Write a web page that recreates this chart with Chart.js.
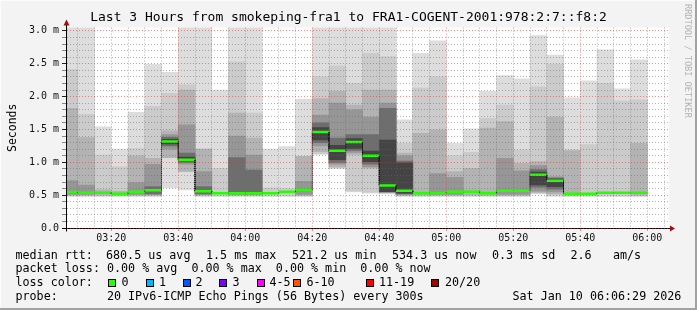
<!DOCTYPE html>
<html>
<head>
<meta charset="utf-8">
<script src="https://cdn.jsdelivr.net/npm/chart.js@4.4.0/dist/chart.umd.min.js"></script>
<style>
  html, body { margin: 0; padding: 0; background: #f3f3f3; }
  #wrap {
    position: relative; width: 697px; height: 310px; background: #f3f3f3;
    box-shadow: inset -2px -2px 0 #a2a2a2, inset 1px 1px 0 #fbfbfb;
    font-family: 'DejaVu Sans Mono', monospace; color: #000;
  }
  #wrap canvas { position: absolute; left: 0; top: 0; }
  .txt { position: absolute; white-space: pre; font-size: 11.7px; line-height: 14px; }
  .box { position: absolute; width: 6px; height: 6px; border: 1px solid #000; }
  .credit {
    position: absolute; left: 683px; top: 4px; font-size: 8.6px; line-height: 10px;
    color: #b4b4b4; writing-mode: vertical-rl; white-space: pre;
  }
</style>
</head>
<body>
<div id="wrap">
  <canvas id="chart" width="697" height="310"></canvas>
  <div class="credit">RRDTOOL / TOBI OETIKER</div>
  <div id="legend"></div>
</div>
<script>
// 5 minute slots (start time of each step)
const slotStart = ['03:05', '03:10', '03:15', '03:20', '03:25', '03:30', '03:35', '03:40', '03:45', '03:50',
  '03:55', '04:00', '04:05', '04:10', '04:15', '04:20', '04:25', '04:30', '04:35', '04:40',
  '04:45', '04:50', '04:55', '05:00', '05:05', '05:10', '05:15', '05:20', '05:25', '05:30',
  '05:35', '05:40', '05:45', '05:50', '05:55'];

// median rtt per slot, ms
const medianRtt = [0.548, 0.538, 0.538, 0.523, 0.553, 0.574, 1.315, 1.04, 0.558, 0.528,
  0.528, 0.528, 0.528, 0.553, 0.583, 1.46, 1.175, 1.31, 1.10, 0.645,
  0.568, 0.528, 0.533, 0.553, 0.553, 0.528, 0.568, 0.568, 0.81, 0.72,
  0.523, 0.523, 0.538, 0.538, 0.538];

// smoke: top of each shade level (light -> dark), ms
const smokeTop = [
  [3.2, 2.41, 1.82, 0.72, null, null],
  [3.2, 1.73, 1.375, 0.655, null, null],
  [1.54, 1.11, 0.58, null, null, null],
  [1.20, 0.93, 0.56, null, null, null],
  [1.76, 1.21, 1.10, 0.69, null, null],
  [2.49, 1.85, 1.06, 0.97, 0.63, null],
  [2.37, 2.05, 1.48, 1.42, 1.38, 1.35],
  [3.2, 2.18, 2.10, 1.57, 1.14, 1.08],
  [3.2, 1.20, 1.20, 0.86, 0.63, null],
  [2.10, 0.91, null, null, null, null],
  [3.2, 2.53, 1.75, 1.40, 1.07, null],
  [3.2, 1.75, 1.37, 1.11, 0.88, null],
  [1.20, 0.61, null, null, null, null],
  [1.24, 0.60, null, null, null, null],
  [1.96, 1.09, 1.09, 0.71, null, null],
  [3.2, 2.30, 1.97, 1.72, 1.60, 1.53],
  [3.2, 2.47, 2.08, 1.90, 1.37, 1.26],
  [3.2, 2.20, 1.87, 1.80, 1.42, 1.36],
  [3.2, 2.66, 2.10, 1.69, 1.42, 1.17],
  [3.2, 2.61, 2.10, 1.90, 1.82, 1.34],
  [1.645, 1.29, 1.14, 1.10, 1.02, 0.99],
  [2.66, 2.13, 1.44, null, null, null],
  [2.85, 2.30, 1.49, 0.83, null, null],
  [1.29, 1.10, 0.86, 0.77, null, null],
  [1.51, 1.15, 0.91, null, null, null],
  [2.08, 1.67, 1.52, null, null, null],
  [2.32, 1.87, 1.62, 1.06, null, null],
  [2.27, 1.19, 0.985, 0.87, null, null],
  [2.93, 2.15, 1.01, 0.95, 0.89, 0.85],
  [2.63, 2.49, 1.69, 0.78, 0.76, 0.745],
  [1.98, 1.19, 1.18, null, null, null],
  [2.24, 1.27, null, null, null, null],
  [2.71, 2.20, null, null, null, null],
  [2.12, 1.93, null, null, null, null],
  [2.56, 1.95, 1.29, null, null, null]
];

// smoke: bottom of each shade level, ms
const smokeBottom = [
  [0.48, 0.49, 0.50, 0.51, 0.52, 0.53],
  [0.48, 0.49, 0.50, 0.51, 0.52, 0.53],
  [0.48, 0.49, 0.50, 0.51, 0.52, 0.53],
  [0.48, 0.49, 0.50, 0.51, 0.52, 0.53],
  [0.48, 0.49, 0.50, 0.51, 0.52, 0.53],
  [0.48, 0.49, 0.50, 0.51, 0.52, 0.53],
  [0.61, 1.07, 1.07, 1.20, 1.25, 1.28],
  [0.58, 0.86, 0.86, 0.97, 1.00, 1.02],
  [0.48, 0.49, 0.50, 0.51, 0.52, 0.53],
  [0.48, 0.49, 0.50, 0.51, 0.52, 0.53],
  [0.48, 0.49, 0.50, 0.51, 0.52, 0.53],
  [0.48, 0.49, 0.50, 0.51, 0.52, 0.53],
  [0.48, 0.49, 0.50, 0.51, 0.52, 0.53],
  [0.48, 0.49, 0.50, 0.51, 0.52, 0.53],
  [0.48, 0.49, 0.50, 0.51, 0.52, 0.53],
  [1.12, 1.13, 1.16, 1.25, 1.30, 1.34],
  [0.91, 0.91, 0.93, 0.97, 1.00, 1.04],
  [0.55, 0.56, 1.12, 1.15, 1.18, 1.21],
  [0.53, 0.545, 0.91, 0.93, 0.97, 1.01],
  [0.52, 0.53, 0.54, 0.545, 0.55, 0.553],
  [0.48, 0.49, 0.50, 0.51, 0.52, 0.53],
  [0.48, 0.49, 0.50, 0.51, 0.52, 0.53],
  [0.48, 0.49, 0.50, 0.51, 0.52, 0.53],
  [0.48, 0.49, 0.50, 0.51, 0.52, 0.53],
  [0.48, 0.49, 0.50, 0.51, 0.52, 0.53],
  [0.48, 0.49, 0.50, 0.51, 0.52, 0.53],
  [0.48, 0.49, 0.50, 0.51, 0.52, 0.53],
  [0.48, 0.49, 0.50, 0.51, 0.52, 0.53],
  [0.52, 0.53, 0.54, 0.56, 0.62, 0.655],
  [0.48, 0.50, 0.52, 0.55, 0.59, 0.63],
  [0.48, 0.49, 0.50, 0.51, 0.52, 0.53],
  [0.48, 0.49, 0.50, 0.51, 0.52, 0.53],
  [0.48, 0.49, 0.50, 0.51, 0.52, 0.53],
  [0.48, 0.49, 0.50, 0.51, 0.52, 0.53],
  [0.48, 0.49, 0.50, 0.51, 0.52, 0.53]
];

const xTickLabels = ['03:20', '03:40', '04:00', '04:20', '04:40', '05:00', '05:20', '05:40', '06:00'];
const yTickValues = [0, 0.5, 1, 1.5, 2, 2.5, 3];
const yTickLabels = ['0.0', '0.5 m', '1.0 m', '1.5 m', '2.0 m', '2.5 m', '3.0 m'];

const lossLabels = ['0', '1', '2', '3', '4-5', '6-10', '11-19', '20/20'];
const lossColors = ['#26ff00', '#00b8ff', '#0059ff', '#7e00ff', '#ff00ff', '#ff5500', '#ff0000', '#a10000'];

const TITLE = 'Last 3 Hours from smokeping-fra1 to FRA1-COGENT-2001:978:2:7::f8:2';
const windowEnd = '06:06:29';
const windowMinutes = 180;
const STEP = 5;
const Y_MAX = 3.05;
const FONT = 'DejaVu Sans Mono';

const LEVEL_COLORS = ['#dddddd', '#cbcbcb', '#b3b3b3', '#969696', '#6e6e6e', '#444444'];
const GRID_MINOR = 'rgba(105,105,105,0.5)';
const GRID_MAJOR = 'rgba(230,50,50,0.55)';

function toMin(t) {
  const p = t.split(':').map(Number);
  return p[0] * 60 + p[1] + (p[2] || 0) / 60;
}

const xMax = toMin(windowEnd);
const xMin = xMax - windowMinutes;
const xMajor = new Map(xTickLabels.map(l => [toMin(l), l]));
const xGrid = [];
for (let m = Math.ceil(xMin / STEP) * STEP; m <= xMax; m += STEP) xGrid.push(m);
const yGrid = [];
for (let i = 0; i <= 30; i++) yGrid.push(i / 10);

const isMajorX = v => xMajor.has(v);
const isMajorY = v => yTickValues.some(t => Math.abs(t - v) < 1e-6);

// smoke layers, light first (drawn at the back)
const smokeSets = LEVEL_COLORS.map((color, k) => ({
  type: 'bar',
  data: slotStart.map((t, i) => smokeTop[i][k] == null ? null :
    { x: toMin(t) + STEP / 2, y: [smokeBottom[i][k], smokeTop[i][k]] }).filter(Boolean),
  backgroundColor: color,
  borderWidth: 0,
  grouped: false,
  barPercentage: 1,
  categoryPercentage: 1,
  order: 10 - k
}));

// median line: green steps, black dotted risers
const medianPts = [];
slotStart.forEach((t, i) => {
  const s = toMin(t);
  medianPts.push({ x: s, y: medianRtt[i] }, { x: s + STEP, y: medianRtt[i] });
});
const riser = c => c.p0.parsed.x === c.p1.parsed.x;

const frame = {
  id: 'frame',
  beforeDraw(chart) {
    const { ctx, chartArea: a } = chart;
    ctx.save();
    ctx.fillStyle = '#fff';
    ctx.fillRect(a.left, a.top, a.right - a.left, a.bottom - a.top);
    ctx.restore();
  },
  afterDraw(chart) {
    const { ctx, chartArea: a } = chart;
    const x0 = Math.round(a.left) + 0.5, y0 = Math.round(a.bottom) + 0.5;
    ctx.save();
    ctx.strokeStyle = '#000';
    ctx.lineWidth = 1;
    ctx.beginPath();
    ctx.moveTo(x0, a.top + 1); ctx.lineTo(x0, a.top - 3);
    ctx.moveTo(x0, y0); ctx.lineTo(x0, y0 + 3);
    ctx.moveTo(x0 - 4, y0); ctx.lineTo(x0, y0);
    ctx.moveTo(a.right - 1, y0); ctx.lineTo(a.right + 2, y0);
    ctx.stroke();
    ctx.fillStyle = '#9c1010';
    ctx.beginPath();
    ctx.moveTo(x0, a.top - 8); ctx.lineTo(x0 - 3, a.top - 2); ctx.lineTo(x0 + 3, a.top - 2);
    ctx.closePath(); ctx.fill();
    ctx.beginPath();
    ctx.moveTo(a.right + 6, y0); ctx.lineTo(a.right + 1, y0 - 3); ctx.lineTo(a.right + 1, y0 + 3);
    ctx.closePath(); ctx.fill();
    ctx.restore();
  }
};

new Chart(document.getElementById('chart'), {
  type: 'bar',
  data: {
    datasets: [{
      type: 'line',
      data: medianPts,
      borderColor: lossColors[0],
      borderWidth: 2.5,
      pointRadius: 0,
      tension: 0,
      order: 0,
      segment: {
        borderColor: c => riser(c) ? '#000' : undefined,
        borderWidth: c => riser(c) ? 1 : undefined,
        borderDash: c => riser(c) ? [1, 1] : undefined
      }
    }, ...smokeSets]
  },
  options: {
    responsive: false,
    animation: false,
    events: [],
    layout: { padding: 0 },
    plugins: {
      legend: { display: false },
      tooltip: { enabled: false },
      title: {
        display: true,
        text: TITLE,
        color: '#000',
        font: { family: FONT, size: 13, weight: 'normal' },
        padding: { top: 10, bottom: 2 }
      }
    },
    scales: {
      x: {
        type: 'linear',
        min: xMin,
        max: xMax,
        offset: false,
        afterBuildTicks: s => { s.ticks = xGrid.map(v => ({ value: v })); },
        afterFit: s => { s.height = 82; },
        grid: {
          z: 1,
          offset: false,
          color: c => isMajorX(c.tick.value) ? GRID_MAJOR : GRID_MINOR,
          tickColor: c => isMajorX(c.tick.value) ? GRID_MAJOR : 'rgba(0,0,0,0)',
          tickLength: 3,
          tickBorderDash: []
        },
        border: { z: 1, color: '#000', dash: [1, 2] },
        ticks: {
          autoSkip: false,
          maxRotation: 0,
          padding: 1,
          color: '#111',
          font: { family: FONT, size: 10 },
          callback: v => xMajor.get(v) || ''
        }
      },
      y: {
        min: 0,
        max: Y_MAX,
        afterBuildTicks: s => { s.ticks = yGrid.map(v => ({ value: v })); },
        afterFit: s => { s.width = 66; },
        grid: {
          z: 1,
          color: c => isMajorY(c.tick.value) ? GRID_MAJOR : GRID_MINOR,
          tickColor: c => isMajorY(c.tick.value) ? '#222' : '#888',
          tickLength: 4,
          tickBorderDash: []
        },
        border: { z: 1, color: '#000', dash: [1, 2] },
        ticks: {
          autoSkip: false,
          padding: 3,
          color: '#111',
          font: { family: FONT, size: 10 },
          callback: v => {
            const i = yTickValues.findIndex(t => Math.abs(t - v) < 1e-6);
            return i < 0 ? '' : yTickLabels[i];
          }
        },
        title: {
          display: true,
          text: 'Seconds',
          color: '#000',
          font: { family: FONT, size: 11.5 },
          padding: { top: 6, bottom: 0 }
        }
      },
      yr: {
        position: 'right',
        afterFit: s => { s.width = 28; },
        grid: { display: false, drawTicks: false },
        border: { display: false },
        ticks: { display: false }
      }
    }
  },
  plugins: [frame]
});

// rrdtool style text legend below the graph
const legend = document.getElementById('legend');
function put(x, y, text) {
  const d = document.createElement('div');
  d.className = 'txt';
  d.style.left = x + 'px';
  d.style.top = y + 'px';
  d.textContent = text;
  legend.appendChild(d);
}
put(15.5, 247.5, 'median rtt:');
[[106, '680.5 us avg'], [206, '1.5 ms max'], [292, '521.2 us min'], [392, '534.3 us now'],
 [492, '0.3 ms sd'], [570.5, '2.6'], [613, 'am/s']].forEach(([x, t]) => put(x, 247.5, t));
put(15.5, 261.3, 'packet loss: 0.00 % avg  0.00 % max  0.00 % min  0.00 % now');
put(15.5, 275.3, 'loss color:');
const boxX = [108, 145.5, 182.5, 219, 256.5, 293, 366, 430.5];
const labelX = [121.5, 159, 195.5, 232.5, 269.5, 306.5, 379, 445];
lossLabels.forEach((l, i) => {
  const b = document.createElement('div');
  b.className = 'box';
  b.style.left = boxX[i] + 'px';
  b.style.top = '278.5px';
  b.style.background = lossColors[i];
  legend.appendChild(b);
  put(labelX[i], 275.3, l);
});
put(15.5, 289.2, 'probe:       20 IPv6-ICMP Echo Pings (56 Bytes) every 300s');
put(512.5, 289.2, 'Sat Jan 10 06:06:29 2026');
</script>
</body>
</html>
